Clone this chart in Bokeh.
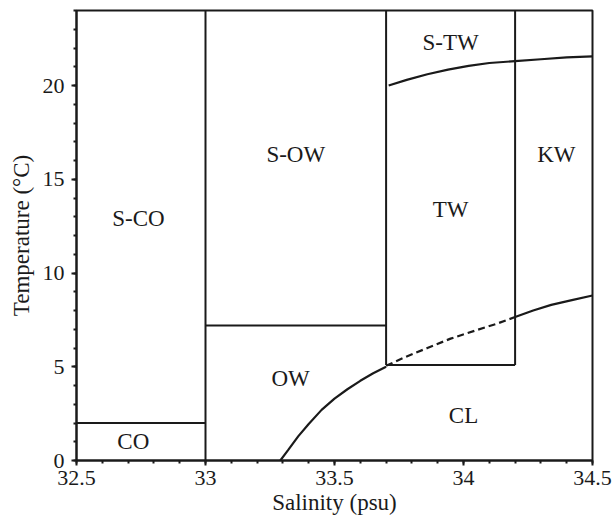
from bokeh.plotting import figure
from bokeh.models import Range1d, FixedTicker, ColumnDataSource
from bokeh.embed import file_html
from bokeh.resources import INLINE
from bokeh.core.properties import value

# ---- data ----
x_ticks = [32.5, 33.0, 33.5, 34.0, 34.5]
x_tick_labels = ["32.5", "33", "33.5", "34", "34.5"]
x_minor = [round(32.5 + 0.1 * k, 2) for k in range(21)]
y_ticks = [0, 5, 10, 15, 20]
y_minor = list(range(0, 25))

# straight boundaries (salinity, temperature) pairs
seg_s0 = [33.0, 32.5, 33.0, 33.7, 33.7, 34.2]
seg_t0 = [0.0, 2.0, 7.2, 5.1, 5.1, 5.1]
seg_s1 = [33.0, 33.0, 33.7, 33.7, 34.2, 34.2]
seg_t1 = [24.0, 2.0, 7.2, 24.0, 5.1, 24.0]

# curved boundaries
cl_s = [33.29, 33.32, 33.36, 33.40, 33.45, 33.50, 33.55, 33.60, 33.65, 33.70]
cl_t = [0.0, 0.55, 1.3, 1.95, 2.7, 3.3, 3.8, 4.25, 4.65, 5.0]
cl_dash_s = [33.70, 33.78, 33.86, 33.95, 34.05, 34.13, 34.20]
cl_dash_t = [5.05, 5.55, 6.0, 6.5, 6.95, 7.3, 7.65]
cl2_s = [34.20, 34.27, 34.34, 34.42, 34.50]
cl2_t = [7.65, 8.0, 8.3, 8.55, 8.8]
stw_s = [33.71, 33.78, 33.86, 33.94, 34.02, 34.10, 34.20, 34.30, 34.40, 34.50]
stw_t = [20.0, 20.3, 20.6, 20.85, 21.05, 21.2, 21.3, 21.4, 21.5, 21.55]

# region labels
lab_text = ["S-CO", "CO", "S-OW", "OW", "TW", "S-TW", "KW", "CL"]
lab_s = [32.74, 32.72, 33.35, 33.33, 33.95, 33.95, 34.36, 34.0]
lab_t = [12.9, 1.0, 16.3, 4.4, 13.4, 22.3, 16.3, 2.4]

FONT = "Liberation Serif"

p = figure(width=613, height=529, output_backend="svg", toolbar_location=None,
           x_range=Range1d(32.5, 34.5), y_range=Range1d(0, 24),
           min_border_left=76, min_border_right=21, min_border_top=10,
           min_border_bottom=69)
p.background_fill_color = "white"
p.border_fill_color = "white"
p.xgrid.visible = False
p.ygrid.visible = False
p.outline_line_color = "#1a1a1a"
p.outline_line_width = 2
p.outline_line_alpha = 1.0

p.xaxis.ticker = FixedTicker(ticks=x_ticks, minor_ticks=x_minor)
p.xaxis.major_label_overrides = {t: l for t, l in zip(x_ticks, x_tick_labels)}
p.yaxis.ticker = FixedTicker(ticks=y_ticks, minor_ticks=y_minor)

for ax in (p.xaxis, p.yaxis):
    ax.axis_line_width = 2
    ax.axis_line_color = "#1a1a1a"
    ax.major_tick_line_width = 2
    ax.minor_tick_line_width = 2
    ax.major_tick_line_color = "#1a1a1a"
    ax.minor_tick_line_color = "#1a1a1a"
    ax.major_tick_out = 5
    ax.major_tick_in = 0
    ax.minor_tick_out = 3
    ax.minor_tick_in = 0
    ax.major_label_text_font = FONT
    ax.major_label_text_font_size = "22px"
    ax.major_label_text_color = "#1a1a1a"
    ax.axis_label_text_font = FONT
    ax.axis_label_text_font_size = "23px"
    ax.axis_label_text_font_style = "normal"
    ax.axis_label_text_color = "#1a1a1a"

p.xaxis.axis_label = "Salinity (psu)"
p.yaxis.axis_label = "Temperature (°C)"
p.xaxis.major_label_standoff = 5
p.yaxis.major_label_standoff = 7
p.xaxis.axis_label_standoff = 2
p.yaxis.axis_label_standoff = 6

LC = "#1a1a1a"
p.segment(x0=seg_s0, y0=seg_t0, x1=seg_s1, y1=seg_t1, line_color=LC, line_width=2)
p.line(cl_s, cl_t, line_color=LC, line_width=2.2)
p.line(cl_dash_s, cl_dash_t, line_color=LC, line_width=2.2, line_dash="7 4")
p.line(cl2_s, cl2_t, line_color=LC, line_width=2.2)
p.line(stw_s, stw_t, line_color=LC, line_width=2.2)

src = ColumnDataSource(dict(x=lab_s, y=lab_t, t=lab_text))
p.text(x="x", y="y", text="t", source=src, text_align="center",
       text_baseline="middle", text_font=value(FONT), text_font_size="23px",
       text_color="#1a1a1a")

open("out.html", "w").write(file_html(p, INLINE))
